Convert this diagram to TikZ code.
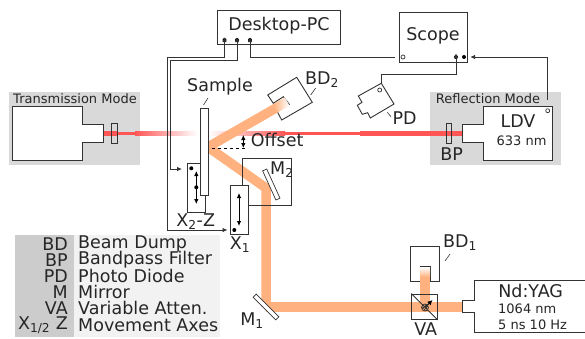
\documentclass[tikz,border=0pt]{standalone}
\usepackage{fontspec}
\setmainfont{DejaVu Sans}
\usepackage{tikz}
\usetikzlibrary{arrows.meta,patterns}
\definecolor{beamcol}{HTML}{FFB27F}
\definecolor{lasercol}{HTML}{FF5555}
\definecolor{linecol}{HTML}{333333}
\definecolor{modecol}{HTML}{D9D9D9}
\tikzset{
	part/.style={draw=linecol, line width=0.9pt, line join=miter},
	box/.style={part, fill=white},
	lbl/.style={inner sep=0pt, text=black!85, font=\fontsize{17.5}{18}\selectfont},
	small/.style={inner sep=0pt, text=black!85, font=\fontsize{13}{14}\selectfont},
	pin/.style={circle, fill=black, inner sep=0pt, minimum size=4pt},
	port/.style={circle, draw=linecol, fill=white, line width=0.7pt, inner sep=0pt, minimum size=4pt},
	wire/.style={draw=linecol, line width=0.8pt, -{Latex[length=5pt,width=4.5pt]}},
	move/.style={draw=black, line width=0.8pt, {Latex[length=5pt,width=4.5pt]}-{Latex[length=5pt,width=4.5pt]}},
	leader/.style={draw=linecol, line width=0.6pt},
	beam/.style={draw=beamcol, line width=9.5pt, line join=bevel},
	mirror/.style={part, fill=white, rotate=#1, minimum width=32pt, minimum height=4.5pt, inner sep=0pt, line width=0.7pt},
}
\begin{document}
\begin{tikzpicture}[x=1pt, y=-1pt]
	\useasboundingbox (0,0) rectangle (585,338);

	\fill[modecol] (9,92) rectangle (140,165);
	\fill[modecol] (430,92) rectangle (561,165);
	\fill[black!20] (15,235) rectangle (74,337);
	\fill[black!5] (74,235) rectangle (220,337);

	\fill[lasercol] (103,131) rectangle (118,135.5);
	\fill[lasercol] (118,131.7) rectangle (135,135);
	\fill[left color=lasercol, right color=white, draw=none] (135,131.7) rectangle (197,135);
	\fill[left color=white, right color=lasercol, draw=none] (208,131.7) rectangle (285,135);
	\fill[lasercol] (285,131.7) rectangle (360,135);
	\fill[lasercol] (360,131) rectangle (463,136);

	\draw[part, fill=white] (267.7,95) -- (273.3,103.3) -- (283.3,96.7) -- (289.3,104.3) -- (276.7,110.7) -- (281.7,120) -- (312.3,102.3) -- (296.7,77.3) -- cycle;
	\draw[part] (410,281) -- (410,246.7) -- (439.3,246.7) -- (439.3,281) -- (430,281) -- (430,266.7) -- (420,266.7) -- (420,281) -- cycle;

	\draw[beam] (266,307) -- (462.5,307);
	\draw[beam] (208,147) -- (266,188) -- (266,307);
	\draw[beam] (208,147) -- (276,108);
	\node[rotate=30, minimum width=13pt, minimum height=9.5pt, inner sep=0pt, left color=beamcol, right color=white] (bd2-fade) at (281.5,104.8) {};
	\fill[beamcol] (420,277) rectangle (430,307);
	\fill[bottom color=beamcol, top color=white] (420,267) rectangle (430,277);

	\node[box, minimum width=122.5pt, minimum height=34pt, inner sep=0pt] (pc) at (278.7,27) {};
	\node[lbl] (pc-text) at (279,25.5) {Desktop-PC};
	\node[pin] (pc-1) at (224.5,40) {};
	\node[pin] (pc-2) at (237,40) {};
	\node[pin] (pc-3) at (250,40) {};

	\node[box, minimum width=68pt, minimum height=49.5pt, inner sep=0pt] (scope) at (433.7,37.2) {};
	\node[lbl] (scope-text) at (433,36) {Scope};
	\node[port] (scope-1) at (403,57) {};
	\node[pin] (scope-2) at (456,57) {};
	\node[pin] (scope-3) at (464,57) {};

	\draw[part, fill=white] (82.5,106.5) -- (12.5,106.5) -- (12.5,160) -- (82.5,160) -- (82.5,142) -- (103,142) -- (103,124) -- (82.5,124) -- cycle;
	\draw[part, fill=none] (111.3,123) rectangle (117.3,143);
	\node[small] (trans-text) at (75,99) {Transmission Mode};

	\draw[part, fill=white] (483,106.5) -- (552.7,106.5) -- (552.7,160) -- (483,160) -- (483,142) -- (462.7,142) -- (462.7,124) -- (483,124) -- cycle;
	\draw[part, fill=none] (446,123) rectangle (451.7,143);
	\node[small] (refl-text) at (488,99) {Reflection Mode};
	\node[lbl] (ldv-text) at (518,121) {LDV};
	\node[small] (ldv-nm) at (521.5,141) {633 nm};
	\node[lbl] (bp-text) at (451.7,154) {BP};
	\node[port] (ldv-port) at (547.7,110.7) {};

	\draw[part, fill=white] (381.3,83.3) -- (394,104) -- (370.3,118) -- (367.7,112.7) -- (362.3,114.3) -- (357.3,105.3) -- (362,102.3) -- (358.3,96) -- cycle;
	\node[port] (pd-port) at (379.7,90) {};
	\node[lbl] (pd-text) at (404.7,118) {PD};
	\draw[leader] (387.3,112.3) -- (391,116.7);

	\draw[part] (242.3,185) -- (242.3,158.3) -- (291.3,158.3) -- (291.3,205) -- (248.7,205);
	\node[mirror=-65.5] (m2) at (271.3,184.5) {};
	\node[lbl, anchor=west] (m2-text) at (270,170) {M\textsubscript{2}};

	\node[box, fill=none, minimum width=18pt, minimum height=48.7pt, inner sep=0pt] (x2) at (196.3,187.6) {};
	\node[pin] (x2-1) at (191.3,168.3) {};
	\node[pin] (x2-2) at (196.3,187.3) {};
	\coordinate (x2-a) at (196.3,171);
	\coordinate (x2-b) at (196.3,204);
	\draw[move] (x2-a) -- (x2-b);
	\node[lbl] (x2-text) at (195.7,221.7) {X\textsubscript{2}-Z};

	\node[box, minimum width=7.3pt, minimum height=87pt, inner sep=0pt] (sample) at (204.4,151.5) {};
	\node[lbl] (sample-text) at (220,87) {Sample};
	\draw[leader] (203.5,105) -- (208,98);

	\node[box, fill=none, minimum width=18.7pt, minimum height=49pt, inner sep=0pt] (x1) at (239.3,209.8) {};
	\node[pin] (x1-1) at (234.3,230) {};
	\coordinate (x1-a) at (239,193);
	\coordinate (x1-b) at (239,226);
	\draw[move] (x1-a) -- (x1-b);
	\node[lbl] (x1-text) at (240,245) {X\textsubscript{1}};

	\node[mirror=-45] (m1) at (266,307) {};
	\node[lbl] (m1-text) at (252,320.7) {M\textsubscript{1}};

	\node[part, draw=linecol, minimum size=25.5pt, inner sep=0pt] (va) at (424.5,306.7) {};
	\draw[part] (va.north west) -- (va.south east);
	\coordinate (va-a) at (425,307.5);
	\coordinate (va-b) at (432.5,300);
	\draw[part, -{Latex[length=5pt,width=5pt]}, line width=0.9pt, draw=black] (va-a) -- (va-b);
	\node[circle, draw=linecol, line width=0.7pt, pattern=crosshatch, pattern color=linecol, minimum size=7pt, inner sep=0pt] (va-c) at (425,307.5) {};
	\node[lbl] (va-text) at (425.7,329) {VA};

	\draw[part, fill=white] (585.5,280) -- (474.7,280) -- (474.7,300) -- (462.3,300) -- (462.3,312.7) -- (474.7,312.7) -- (474.7,332.7) -- (585.5,332.7);
	\node[lbl] (nd-text) at (530.7,291) {Nd:YAG};
	\node[small, anchor=west] (nd-nm) at (498,309) {1064 nm};
	\node[small, anchor=west] (nd-rate) at (498,325) {5 ns 10 Hz};

	\node[lbl] (bd1-text) at (460,243) {BD\textsubscript{1}};
	\draw[leader] (445,261) -- (450,254);
	\node[lbl] (bd2-text) at (322,80) {BD\textsubscript{2}};
	\draw[leader] (310.7,95) -- (315.7,88);

	\coordinate (offset-a) at (212,148.3);
	\coordinate (offset-b) at (247,148.3);
	\draw[draw=black, dashed, line width=0.7pt] (offset-a) -- (offset-b);
	\coordinate (offset-c) at (243.3,135);
	\coordinate (offset-d) at (243.3,148);
	\draw[move] (offset-c) -- (offset-d);
	\node[lbl, anchor=west] (offset-text) at (250.7,140) {Offset};

	\coordinate (bus-1) at (167,57);
	\coordinate (bus-2) at (170,60);
	\coordinate (bus-3) at (395,57);
	\coordinate (pd-out) at (381,83);
	\coordinate (ldv-out) at (547.7,100);
	\draw[wire] (bus-1 -| pc-1) -- (bus-1) -- (167,230) -- ([xshift=-2pt]x1.west |- x1-1);
	\draw[wire] (bus-1 -| pc-1) -- ([yshift=5pt]pc-1.south);
	\draw[wire] (bus-2) -- (170,169) -- (182,169);
	\draw[wire] (bus-2) -- (bus-2 -| pc-2) -- ([yshift=5pt]pc-2.south);
	\draw[wire] (bus-3) -- (bus-3 -| pc-3) -- ([yshift=5pt]pc-3.south);
	\draw[wire] (pd-out) -- (381,74) -- (scope-2 |- 0,74) -- ([yshift=6pt]scope-2.south);
	\draw[wire] (ldv-out) -- (ldv-out |- scope-3) -- ([xshift=4pt]scope-3.east);

	\node[lbl, anchor=east] (key-1) at (68,244) {BD};
	\node[lbl, anchor=east] (key-2) at (68,260) {BP};
	\node[lbl, anchor=east] (key-3) at (68,276) {PD};
	\node[lbl, anchor=east] (key-4) at (68,292) {M};
	\node[lbl, anchor=east] (key-5) at (68,308) {VA};
	\node[lbl, anchor=east] (key-6) at (68,325) {X\textsubscript{1/2} Z};
	\node[lbl, anchor=west] (val-1) at (78,244) {Beam Dump};
	\node[lbl, anchor=west] (val-2) at (78,260) {Bandpass Filter};
	\node[lbl, anchor=west] (val-3) at (78,276) {Photo Diode};
	\node[lbl, anchor=west] (val-4) at (78,292) {Mirror};
	\node[lbl, anchor=west] (val-5) at (78,308) {Variable Atten.};
	\node[lbl, anchor=west] (val-6) at (78,325) {Movement Axes};
\end{tikzpicture}
\end{document}
